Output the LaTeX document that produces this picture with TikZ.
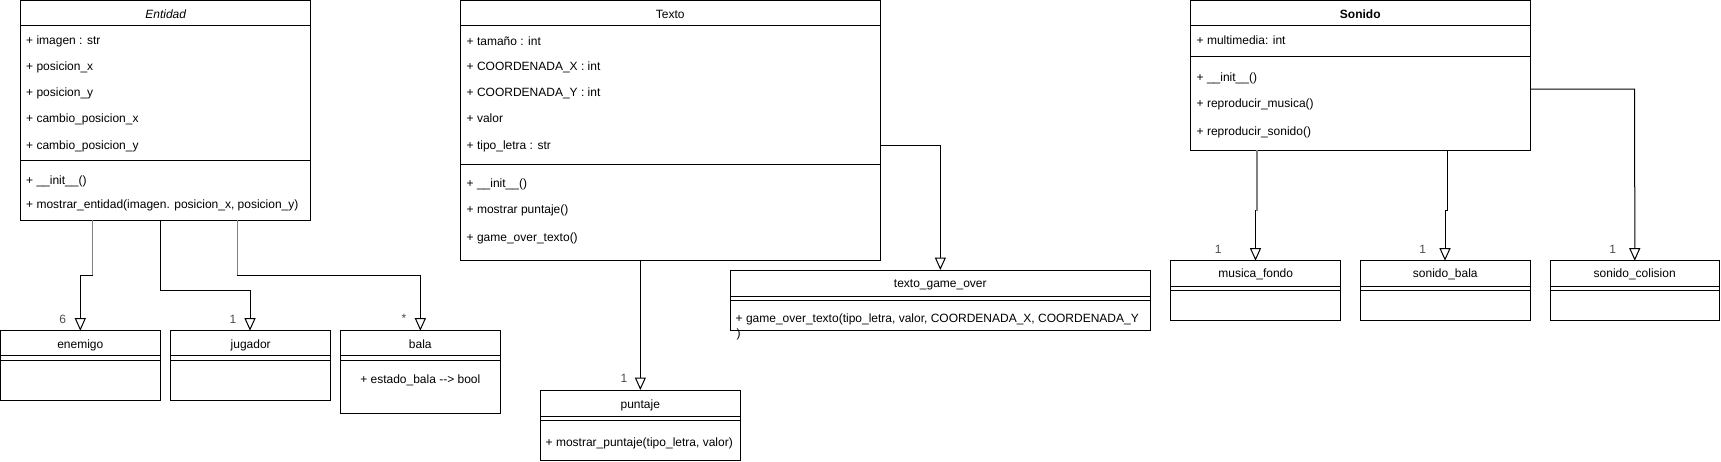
\documentclass[tikz,border=0pt]{standalone}
\usepackage{fontspec}
\setmainfont{Liberation Sans}
\usetikzlibrary{arrows.meta}
\newcommand\umlsz{\fontsize{12}{14}\selectfont}
\begin{document}
\begin{tikzpicture}[x=1pt,y=-1pt,
  box/.style={draw, line width=1pt, anchor=north west, inner sep=0pt, outer sep=0pt},
  sepline/.style={line width=1pt},
  txt/.style={anchor=mid west, inner sep=0pt, font=\umlsz, yshift=-1.8pt},
  ctxt/.style={anchor=mid, inner sep=0pt, font=\umlsz, yshift=-1.8pt},
  gen/.style={line width=1pt, -{Triangle[open, length=12.5pt, width=11pt, fill=white]}},
  graywire/.style={line width=1.4pt, draw=black!50},
  mult/.style={anchor=mid, inner sep=0pt, font=\umlsz, text=black!70, yshift=-1.8pt}]
\useasboundingbox (0,0) rectangle (1721,461);

% ---------- Entidad ----------
\node[box, minimum width=290pt, minimum height=219.5pt] (entidad) at (20.7,0.5) {};
\draw[sepline] (20.7,25.7) -- (310.7,25.7);
\draw[sepline] (20.7,160) -- (310.7,160);
\node[ctxt] (entT) at (165.7,14) {\itshape Entidad};
\node[txt] (ent1) at (26,40) {+ imagen : str};
\node[txt] (ent2) at (26,65.7) {+ posicion\_x};
\node[txt] (ent3) at (26,91.7) {+ posicion\_y};
\node[txt] (ent4) at (26,118) {+ cambio\_posicion\_x};
\node[txt] (ent5) at (26,145) {+ cambio\_posicion\_y};
\node[txt] (ent6) at (26,180) {+ \_\_init\_\_()};
\node[txt] (ent7) at (26,204) {+ mostrar\_entidad(imagen. posicion\_x, posicion\_y)};

% ---------- enemigo / jugador / bala ----------
\node[box, minimum width=159.5pt, minimum height=69.5pt] (enemigo) at (0.5,330.7) {};
\draw[sepline] (0.5,355.7) -- (160,355.7);
\draw[sepline] (0.5,360) -- (160,360);
\node[ctxt] (enemigoT) at (80.3,344) {enemigo};

\node[box, minimum width=160pt, minimum height=69.5pt] (jugador) at (170.7,330.7) {};
\draw[sepline] (170.7,355.7) -- (330.7,355.7);
\draw[sepline] (170.7,360) -- (330.7,360);
\node[ctxt] (jugadorT) at (250.7,344) {jugador};

\node[box, minimum width=159.3pt, minimum height=82.6pt] (bala) at (340.7,330.7) {};
\draw[sepline] (340.7,355.7) -- (500,355.7);
\draw[sepline] (340.7,360) -- (500,360);
\node[ctxt] (balaT) at (420.3,344) {bala};
\node[ctxt] (bala1) at (420.3,379) {+ estado\_bala \mbox{-}\mbox{-}> bool};

% ---------- Texto ----------
\node[box, minimum width=419.3pt, minimum height=259.5pt] (texto) at (460.7,0.5) {};
\draw[sepline] (460.7,25.7) -- (880,25.7);
\draw[sepline] (460.7,164) -- (880,164);
\node[ctxt] (texT) at (670.3,14) {Texto};
\node[txt] (tex1) at (466.5,40.7) {+ tamaño : int};
\node[txt] (tex2) at (466.5,66) {+ COORDENADA\_X : int};
\node[txt] (tex3) at (466.5,91.7) {+ COORDENADA\_Y : int};
\node[txt] (tex4) at (466.5,118) {+ valor};
\node[txt] (tex5) at (466.5,145) {+ tipo\_letra : str};
\node[txt] (tex6) at (466.5,182.7) {+ \_\_init\_\_()};
\node[txt] (tex7) at (466.5,209) {+ mostrar puntaje()};
\node[txt] (tex8) at (466.5,237) {+ game\_over\_texto()};

% ---------- puntaje ----------
\node[box, minimum width=199.3pt, minimum height=70pt] (puntaje) at (540.7,390) {};
\draw[sepline] (540.7,416) -- (740,416);
\draw[sepline] (540.7,420) -- (740,420);
\node[ctxt] (punT) at (640.3,404.5) {puntaje};
\node[txt] (pun1) at (545.5,441.7) {+ mostrar\_puntaje(tipo\_letra, valor)};

% ---------- texto_game_over ----------
\node[box, minimum width=419.3pt, minimum height=60pt] (tgo) at (730.7,270) {};
\draw[sepline] (730.7,296.7) -- (1150,296.7);
\draw[sepline] (730.7,300) -- (1150,300);
\node[ctxt] (tgoT) at (940.3,283) {texto\_game\_over};
\node[txt] (tgo1) at (735.5,318.3) {+ game\_over\_texto(tipo\_letra, valor, COORDENADA\_X, COORDENADA\_Y};
\node[txt] (tgo2) at (736.5,333.5) {)};

% ---------- Sonido ----------
\node[box, minimum width=339.3pt, minimum height=149.5pt] (sonido) at (1190.7,0.5) {};
\draw[sepline] (1190.7,25.7) -- (1530,25.7);
\draw[sepline] (1190.7,56.7) -- (1530,56.7);
\node[ctxt] (sonT) at (1360.3,14) {\bfseries Sonido};
\node[txt] (son1) at (1196.5,40) {+ multimedia: int};
\node[txt] (son2) at (1196.5,77) {+ \_\_init\_\_()};
\node[txt] (son3) at (1196.5,103) {+ reproducir\_musica()};
\node[txt] (son4) at (1196.5,131.2) {+ reproducir\_sonido()};

% ---------- musica_fondo / sonido_bala / sonido_colision ----------
\node[box, minimum width=170pt, minimum height=59.3pt] (musica) at (1170.7,260.7) {};
\draw[sepline] (1170.7,286) -- (1340.7,286);
\draw[sepline] (1170.7,290) -- (1340.7,290);
\node[ctxt] (musT) at (1255.7,273.5) {musica\_fondo};

\node[box, minimum width=169.3pt, minimum height=59.3pt] (sbala) at (1360.7,260.7) {};
\draw[sepline] (1360.7,286) -- (1530,286);
\draw[sepline] (1360.7,290) -- (1530,290);
\node[ctxt] (sbalaT) at (1445.3,273.5) {sonido\_bala};

\node[box, minimum width=169.5pt, minimum height=59.3pt] (scol) at (1550,260.7) {};
\draw[sepline] (1550,286) -- (1719.5,286);
\draw[sepline] (1550,290) -- (1719.5,290);
\node[ctxt] (scolT) at (1634.7,273.5) {sonido\_colision};

% ---------- connectors ----------
\coordinate (b1) at (92.7,275);
\coordinate (b2) at (160.7,290);
\coordinate (b3) at (237.7,275);
\draw[gen] (entidad.south west -| b1) -- (b1) -| (enemigo.north west -| 80.3,0);
\draw[graywire] (entidad.south west -| b1) -- (b1);
\draw[gen] (entidad.south west -| b2) -- (b2) -| (jugador.north west -| 250,0);
\draw[gen] (entidad.south west -| b3) -- (b3) -| (bala.north);
\draw[graywire] (entidad.south west -| b3) -- (b3);

\draw[gen] (texto.south west -| puntaje.north) -- (puntaje.north);
\coordinate (b4) at (940.3,145);
\draw[gen] (texto.north east |- b4) -| (tgo.north);

\coordinate (b5) at (1257,210.7);
\coordinate (b6) at (1447,210.7);
\coordinate (b7) at (1634.7,89);
\draw[gen] (sonido.south west -| b5) -- (b5) -- ++(-1.5,0) -- (musica.north west -| 1255.5,0);
\draw[graywire] (sonido.south west -| b5) -- (b5);
\draw[gen] (sonido.south west -| b6) -- (b6) -- ++(-2,0) -- (sbala.north west -| 1445,0);
\draw[gen] (sonido.north east |- b7) -- (b7) -- (scol.north);

% ---------- multiplicities ----------
\node[mult] (m1) at (62.7,319) {6};
\node[mult] (m2) at (233,319) {1};
\node[mult] (m3) at (404,318) {*};
\node[mult] (m4) at (624,378) {1};
\node[mult] (m5) at (1218.3,249) {1};
\node[mult] (m6) at (1422.7,249) {1};
\node[mult] (m7) at (1612.7,249) {1};
\end{tikzpicture}
\end{document}
